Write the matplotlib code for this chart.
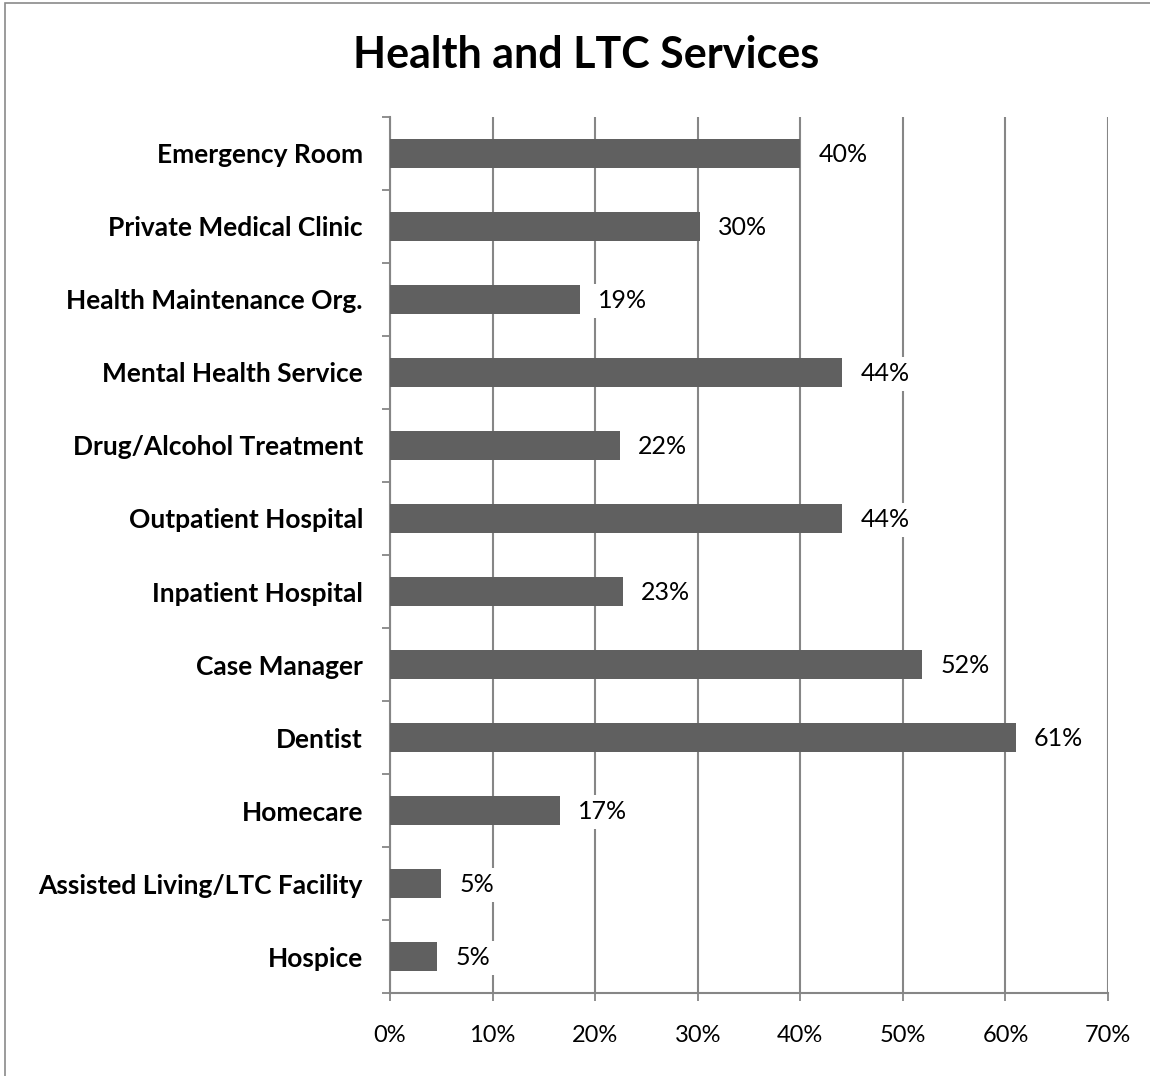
import matplotlib.pyplot as plt
import numpy as np
from matplotlib.patches import Rectangle
from matplotlib.ticker import FixedLocator, PercentFormatter

plt.rcParams["font.family"] = ["Lato", "DejaVu Sans"]

categories = [
    "Emergency Room",
    "Private Medical Clinic",
    "Health Maintenance Org.",
    "Mental Health Service",
    "Drug/Alcohol Treatment",
    "Outpatient Hospital",
    "Inpatient Hospital",
    "Case Manager",
    "Dentist",
    "Homecare",
    "Assisted Living/LTC Facility",
    "Hospice",
]
values = [40.0, 30.2, 18.5, 44.1, 22.4, 44.1, 22.7, 51.9, 61.0, 16.6, 5.0, 4.6]
value_labels = ["40%", "30%", "19%", "44%", "22%", "44%", "23%", "52%", "61%", "17%", "5%", "5%"]
x_ticks = [0, 10, 20, 30, 40, 50, 60, 70]

grid_color = "#868686"
bar_color = "#606060"

fig = plt.figure(figsize=(11.5, 10.76), dpi=100)
ax = fig.add_axes([0.3391, 0.0771, 0.6244, 0.8142])

y = np.arange(len(categories))
ax.barh(y, values, height=0.4, color=bar_color, zorder=3)

ax.set_ylim(len(categories) - 0.5, -0.5)
ax.set_xlim(0, 70)
ax.set_xticks(x_ticks)
ax.xaxis.set_major_formatter(PercentFormatter(decimals=0))
ax.set_yticks(y)
ax.set_yticklabels(categories, fontsize=19, fontweight="bold")
ax.yaxis.set_minor_locator(FixedLocator(np.arange(-0.5, len(categories), 1)))
ax.tick_params(axis="y", which="major", length=0, pad=19.5)
ax.tick_params(axis="y", which="minor", length=6, color=grid_color, width=1.3)
ax.tick_params(axis="x", length=6, color=grid_color, width=1.3, labelsize=17, pad=17)

ax.grid(axis="x", color=grid_color, linewidth=1.5, zorder=1)
ax.set_axisbelow(True)
for side in ["top", "right"]:
    ax.spines[side].set_visible(False)
for side in ["left", "bottom"]:
    ax.spines[side].set_color(grid_color)
    ax.spines[side].set_linewidth(1.5)

for yi, v, lab in zip(y, values, value_labels):
    ax.text(v + 1.75, yi + 0.02, lab, va="center", ha="left", fontsize=18, zorder=4,
            bbox=dict(facecolor="white", edgecolor="none", pad=4))

fig.text(0.5096, 0.949, "Health and LTC Services", ha="center", va="center",
         fontsize=31, fontweight="bold")

fig.patches.append(Rectangle((0.0045, -0.01), 1.1, 1.007, transform=fig.transFigure,
                             fill=False, edgecolor="#8a8a8a", linewidth=1.2))

fig.savefig("out.png", dpi=100, facecolor="white")
